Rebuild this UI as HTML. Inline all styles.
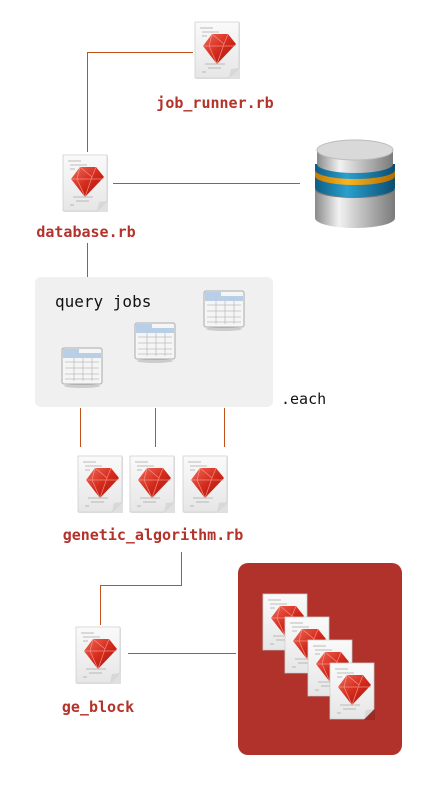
<!DOCTYPE html>
<html><head><meta charset="utf-8"><style>
html,body{margin:0;padding:0;background:#fff;width:440px;height:800px;overflow:hidden}
text{font-family:"DejaVu Sans Mono","Liberation Mono",monospace}
</style></head><body>
<svg width="440" height="800" viewBox="0 0 440 800" xmlns="http://www.w3.org/2000/svg">
<defs>
<linearGradient id="pg" x1="0" y1="0" x2="0" y2="1"><stop offset="0" stop-color="#fafafa"/><stop offset="1" stop-color="#e6e6e6"/></linearGradient>
<linearGradient id="gem" x1="0" y1="0" x2="1" y2="1"><stop offset="0" stop-color="#f06a5a"/><stop offset="0.5" stop-color="#d42a1c"/><stop offset="1" stop-color="#a0150e"/></linearGradient>
<g id="rb">
<rect x="1" y="1" width="44" height="56" fill="#000" opacity="0.12"/>
<path d="M0 0H44V46L34 56H0Z" fill="url(#pg)" stroke="#cfcfcf" stroke-width="0.8"/>
<path d="M44 46L34 56L36 47Z" fill="#d8d8d8"/>
<g stroke="#aaa" stroke-width="0.8">
<line x1="5" y1="6" x2="18" y2="6"/><line x1="7" y1="10" x2="24" y2="10"/><line x1="7" y1="14" x2="12" y2="14"/>
<line x1="10" y1="42" x2="30" y2="42"/><line x1="13" y1="46" x2="26" y2="46"/><line x1="7" y1="50" x2="11" y2="50"/>
</g>
<path d="M8 24L17 12H33L41 22L22 42Z" fill="url(#gem)"/>
<path d="M8 24H41M17 12L14 24L22 42L29 22L17 12M33 12L29 22" stroke="#f7a59a" stroke-width="0.7" fill="none" opacity="0.8"/>
</g>
<g id="tb">
<rect x="0" y="0" width="40" height="36" rx="2" fill="#f5f5f5" stroke="#aaa"/>
<rect x="1" y="1" width="16" height="4" fill="#b9cfe8"/>
<rect x="1" y="5" width="38" height="5" fill="#b9cfe8"/>
<g stroke="#bbb" stroke-width="0.7">
<line x1="3" y1="14" x2="37" y2="14"/><line x1="3" y1="20" x2="37" y2="20"/><line x1="3" y1="26" x2="37" y2="26"/><line x1="3" y1="31" x2="37" y2="31"/>
<line x1="12" y1="10" x2="12" y2="33"/><line x1="21" y1="10" x2="21" y2="33"/><line x1="30" y1="10" x2="30" y2="33"/>
</g>
<ellipse cx="20" cy="38" rx="18" ry="2" fill="#000" opacity="0.15"/>
</g>
<linearGradient id="cyl" x1="0" y1="0" x2="1" y2="0"><stop offset="0" stop-color="#8a8a8a"/><stop offset="0.3" stop-color="#f2f2f2"/><stop offset="0.6" stop-color="#bdbdbd"/><stop offset="1" stop-color="#7a7a7a"/></linearGradient>
<linearGradient id="blu" x1="0" y1="0" x2="1" y2="0"><stop offset="0" stop-color="#0e5d86"/><stop offset="0.4" stop-color="#2aa0d0"/><stop offset="1" stop-color="#0b4d70"/></linearGradient>
<linearGradient id="org" x1="0" y1="0" x2="1" y2="0"><stop offset="0" stop-color="#c77a00"/><stop offset="0.4" stop-color="#f7b520"/><stop offset="1" stop-color="#b06a00"/></linearGradient>
</defs>

<g stroke="#c0531c" stroke-width="1" fill="none">
<path d="M87.5 152V52.5H193"/>
<path d="M113 183.5H300"/>
<path d="M87.5 243V277"/>
<path d="M80.5 408V447M155.5 408V447M224.5 408V447"/>
<path d="M181.5 552V585.5H100.5V625"/>
<path d="M128 653.5H236"/>
</g>

<use href="#rb" x="195" y="22"/>
<text x="215" y="108" font-size="15" font-weight="bold" fill="#b3322a" text-anchor="middle">job_runner.rb</text>

<use href="#rb" x="63" y="155"/>
<text x="86" y="237" font-size="15" font-weight="bold" fill="#b3322a" text-anchor="middle">database.rb</text>

<g>
<path d="M315 190V218A40 10 0 0 0 395 218V190Z" fill="url(#cyl)"/>
<ellipse cx="355" cy="190" rx="40" ry="8" fill="#777"/>
<path d="M315 182V188A40 9 0 0 0 395 188V182Z" fill="url(#blu)"/>
<path d="M315 176V182A40 9 0 0 0 395 182V176Z" fill="url(#blu)"/>
<path d="M315 170V176A40 9 0 0 0 395 176V170Z" fill="url(#org)"/>
<path d="M315 164V170A40 9 0 0 0 395 170V164Z" fill="url(#blu)"/>
<path d="M317 150V164A38 9 0 0 0 393 164V150Z" fill="url(#cyl)"/>
<ellipse cx="355" cy="150" rx="38" ry="10" fill="#d9d9d9" stroke="#bbb"/>
</g>

<rect x="35" y="277" width="238" height="130" rx="6" fill="#f0f0f0"/>
<text x="55" y="307" font-size="16" fill="#111">query jobs</text>
<use href="#tb" x="62" y="348"/>
<use href="#tb" x="135" y="323"/>
<use href="#tb" x="204" y="291"/>
<text x="281" y="404" font-size="15" fill="#111">.each</text>

<use href="#rb" x="78" y="456"/>
<use href="#rb" x="130" y="456"/>
<use href="#rb" x="183" y="456"/>
<text x="153" y="540" font-size="15" font-weight="bold" fill="#b3322a" text-anchor="middle">genetic_algorithm.rb</text>

<use href="#rb" x="76" y="627"/>
<text x="98" y="712" font-size="15" font-weight="bold" fill="#b3322a" text-anchor="middle">ge_block</text>

<rect x="238" y="563" width="164" height="192" rx="10" fill="#b0322b"/>
<use href="#rb" x="263" y="594"/>
<use href="#rb" x="285" y="617"/>
<use href="#rb" x="308" y="640"/>
<use href="#rb" x="330" y="663"/>
</svg>
</body></html>
